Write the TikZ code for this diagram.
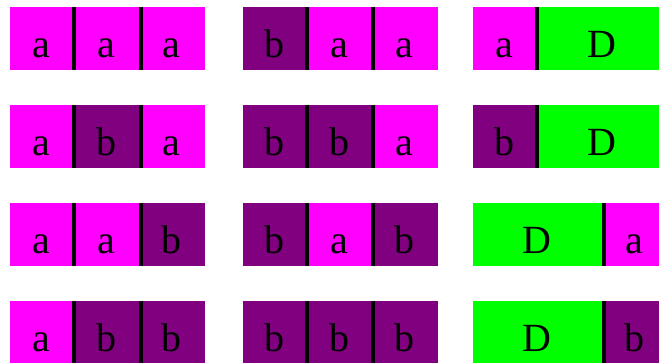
\documentclass[tikz,border=0pt]{standalone}
\usepackage{fontspec}
\setmainfont{Liberation Serif}
\definecolor{cellmagenta}{RGB}{255,0,255}
\definecolor{cellpurple}{RGB}{128,0,128}
\definecolor{cellgreen}{RGB}{0,255,0}

\begin{document}
\begin{tikzpicture}[
    x=1pt,
    y=-1pt,
    line cap=butt,
    every node/.style={font=\fontsize{40}{40}\selectfont, anchor=base, inner sep=0pt}
]

\useasboundingbox (0,0) rectangle (659,362);
\clip (0,0) rectangle (659,362);

% First column: three-letter words
\begin{scope}[xshift=10pt]
\foreach \x/\y/\c/\t [count=\i] in {0/7/cellmagenta/a,65/7/cellmagenta/a,130/7/cellmagenta/a,
    0/105/cellmagenta/a,65/105/cellpurple/b,130/105/cellmagenta/a,
    0/203/cellmagenta/a,65/203/cellmagenta/a,130/203/cellpurple/b,
    0/301/cellmagenta/a,65/301/cellpurple/b,130/301/cellpurple/b}{
    \fill[\c] (\x,\y) rectangle ++(65,63);
    \node (first\i) at (\x+31,\y+50) {\t};
}

% Separators
\foreach \y in {7,105,203,301}{
    \draw[line width=4.5pt] (64,\y) -- ++(0,63);
    \draw[line width=4.5pt] (131,\y) -- ++(0,63);
}
\end{scope}

% Second column: words starting with b
\begin{scope}[xshift=243pt]
\foreach \x/\y/\c/\t [count=\i] in {0/7/cellpurple/b,65/7/cellmagenta/a,130/7/cellmagenta/a,
    0/105/cellpurple/b,65/105/cellpurple/b,130/105/cellmagenta/a,
    0/203/cellpurple/b,65/203/cellmagenta/a,130/203/cellpurple/b,
    0/301/cellpurple/b,65/301/cellpurple/b,130/301/cellpurple/b}{
    \fill[\c] (\x,\y) rectangle ++(65,63);
    \node (second\i) at (\x+31,\y+50) {\t};
}

\foreach \y in {7,105,203,301}{
    \draw[line width=4.5pt] (64,\y) -- ++(0,63);
    \draw[line width=4.5pt] (130,\y) -- ++(0,63);
}
\end{scope}

% Third column: letter and D-block
\begin{scope}[xshift=473pt]
\foreach \x/\y/\w/\c/\t [count=\i] in {0/7/65/cellmagenta/a,65/7/130/cellgreen/D,
    0/105/65/cellpurple/b,65/105/130/cellgreen/D,
    0/203/130/cellgreen/D,130/203/65/cellmagenta/a,
    0/301/130/cellgreen/D,130/301/65/cellpurple/b}{
    \fill[\c] (\x,\y) rectangle ++(\w,63);
    \node (third\i) at (\x+\w/2-1,\y+50) {\t};
}

\foreach \x/\y in {64/7,64/105,131/203,131/301}{
    \draw[line width=4.5pt] (\x,\y) -- ++(0,63);
}
\end{scope}

\end{tikzpicture}
\end{document}
